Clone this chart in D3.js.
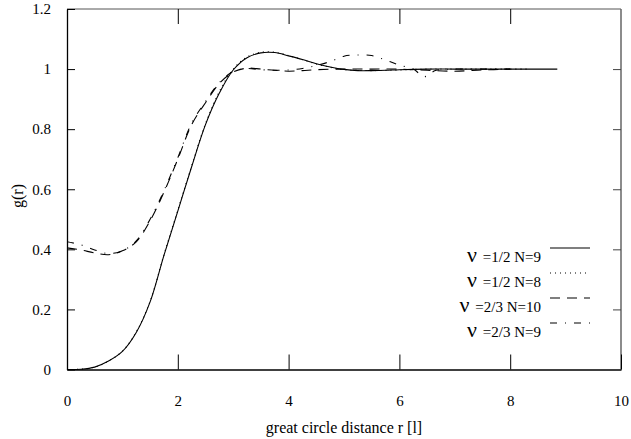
<!DOCTYPE html>
<html>
<head>
<meta charset="UTF-8">
<script src="https://cdn.jsdelivr.net/npm/d3@7"></script>
<style>
  body { margin: 0; background: #fff; }
  svg text { font-family: "Liberation Serif", "Times New Roman", Times, "DejaVu Serif", serif; fill: #000; }
</style>
</head>
<body>
<div id="chart"></div>
<script>
// --- data ---
var r_half9 = [0, 0.25, 0.5, 0.75, 1.0, 1.25, 1.5, 1.75, 2.0, 2.25, 2.5, 2.75, 3.0, 3.25, 3.5, 3.75, 4.0, 4.25, 4.5, 4.75, 5.0, 5.25, 5.5, 5.75, 6.0, 6.5, 7.0, 7.5, 8.0, 8.5, 8.85];
var g_half9 = [0, 0.001, 0.008, 0.028, 0.06, 0.123, 0.225, 0.38, 0.527, 0.675, 0.815, 0.92, 0.997, 1.038, 1.054, 1.055, 1.044, 1.032, 1.018, 1.007, 0.999, 0.995, 0.995, 0.996, 0.998, 1.0, 1.0, 1.0, 1.0, 1.0, 1.0];

var r_half8 = [0, 0.25, 0.5, 0.75, 1.0, 1.25, 1.5, 1.75, 2.0, 2.25, 2.5, 2.75, 3.0, 3.25, 3.5, 3.75, 4.0, 4.25, 4.5, 4.75, 5.0, 5.5, 6.0, 6.5, 7.0, 7.5, 8.0, 8.3];
var g_half8 = [0, 0.001, 0.008, 0.028, 0.061, 0.125, 0.227, 0.382, 0.53, 0.678, 0.818, 0.925, 1.0, 1.04, 1.056, 1.056, 1.045, 1.031, 1.017, 1.006, 0.998, 0.995, 0.997, 1.0, 1.0, 1.0, 1.0, 1.0];

var r_twoth10 = [0, 0.25, 0.5, 0.75, 1.0, 1.25, 1.5, 1.75, 2.0, 2.25, 2.5, 2.75, 3.0, 3.25, 3.5, 3.75, 4.0, 4.25, 4.5, 5.0, 5.5, 6.0, 6.5, 7.0, 7.5, 8.0];
var g_twoth10 = [0.405, 0.398, 0.388, 0.382, 0.395, 0.425, 0.495, 0.59, 0.70, 0.815, 0.888, 0.952, 0.99, 1.003, 1.0, 0.996, 0.993, 0.995, 0.998, 1.0, 1.0, 1.0, 0.996, 0.993, 0.997, 1.0];

var r_twoth9 = [0, 0.25, 0.5, 0.75, 1.0, 1.25, 1.5, 1.75, 2.0, 2.25, 2.5, 2.75, 3.0, 3.25, 3.5, 3.75, 4.0, 4.25, 4.5, 4.75, 5.0, 5.25, 5.5, 5.75, 6.0, 6.25, 6.45, 6.65, 7.0, 7.5, 8.0];
var g_twoth9 = [0.425, 0.415, 0.398, 0.386, 0.395, 0.428, 0.50, 0.595, 0.705, 0.82, 0.892, 0.955, 0.992, 1.002, 0.998, 0.996, 0.997, 1.002, 1.012, 1.025, 1.043, 1.047, 1.045, 1.03, 1.013, 1.0, 0.975, 0.995, 1.0, 1.0, 1.0];

var x_ticks = [0, 2, 4, 6, 8, 10];
var y_ticks = [0, 0.2, 0.4, 0.6, 0.8, 1, 1.2];
var legend_nu = ["=1/2 N=9", "=1/2 N=8", "=2/3 N=10", "=2/3 N=9"];

var W = 631, H = 439;
var L = 67, R = 621, T = 9, B = 369.5;
var FONT = "'Liberation Serif', 'Times New Roman', Times, 'DejaVu Serif', serif";

var svg = d3.select("#chart").append("svg").attr("width", W).attr("height", H);
var x = d3.scaleLinear().domain([0, 10]).range([L, R]);
var y = d3.scaleLinear().domain([0, 1.2]).range([B, T]);

// frame: top + right in grey, left + bottom in black
svg.append("line").attr("x1", L).attr("x2", R).attr("y1", T).attr("y2", T).style("stroke", "#555").style("stroke-width", 1);
svg.append("line").attr("x1", R).attr("x2", R).attr("y1", T).attr("y2", B).style("stroke", "#666").style("stroke-width", 1.5);

// axes (inward ticks)
var xb = svg.append("g").attr("transform", "translate(0," + B + ")")
	.call(d3.axisBottom(x).tickValues(x_ticks).tickSizeInner(-15).tickSizeOuter(0).tickPadding(26).tickFormat(d3.format("d")));
var xt = svg.append("g").attr("transform", "translate(0," + T + ")")
	.call(d3.axisTop(x).tickValues(x_ticks.slice(1, 5)).tickSizeInner(-15).tickSizeOuter(0).tickFormat(""));
xt.select(".domain").remove();
var yl = svg.append("g").attr("transform", "translate(" + L + ",0)")
	.call(d3.axisLeft(y).tickValues(y_ticks).tickSizeInner(-8).tickSizeOuter(0).tickPadding(16).tickFormat(function(d){ return d === 0 ? "0" : (d === 1 ? "1" : d3.format(".1f")(d)); }));
var yr = svg.append("g").attr("transform", "translate(" + R + ",0)")
	.call(d3.axisRight(y).tickValues(y_ticks.slice(1, 6)).tickSizeInner(-8).tickSizeOuter(0).tickFormat(""));
yr.select(".domain").remove();

svg.selectAll("g").attr("font-family", null);
svg.selectAll(".domain").style("stroke", "#000").style("stroke-width", 1.3);
svg.selectAll(".tick line").style("stroke", "#000").style("stroke-width", 1);
svg.selectAll(".tick text").style("font-family", FONT).style("font-size", "15px").style("fill", "#000");
yr.selectAll(".tick line").style("stroke", "#444");

// axis titles
svg.append("text").attr("x", 344).attr("y", 433).attr("text-anchor", "middle").style("font-family", FONT).style("font-size", "16px").text("great circle distance r [l]");
svg.append("text").attr("transform", "translate(23,196) rotate(-90)").attr("text-anchor", "middle").style("font-family", FONT).style("font-size", "16px").text("g(r)");

// curves
var series = [
	{ r: r_half9, g: g_half9, dash: null },
	{ r: r_half8, g: g_half8, dash: "1,4" },
	{ r: r_twoth10, g: g_twoth10, dash: "10,7" },
	{ r: r_twoth9, g: g_twoth9, dash: "7,8,1,8" }
];
var line = d3.line().x(function(d){ return x(d[0]); }).y(function(d){ return y(d[1]); }).curve(d3.curveCatmullRom.alpha(0.5));
series.forEach(function(s){
	var pts = s.r.map(function(v, i){ return [v, s.g[i]]; });
	svg.append("path").attr("d", line(pts)).style("fill", "none").style("stroke", "#000").style("stroke-width", 1.1)
		.style("stroke-dasharray", s.dash);
});

// legend
var ly = [257, 282, 307, 332];
series.forEach(function(s, i){
	var t = svg.append("text").attr("x", 541).attr("y", ly[i] + 5).attr("text-anchor", "end").style("font-family", FONT).style("font-size", "15px");
	t.append("tspan").style("font-size", "22px").text("\u03bd");
	t.append("tspan").attr("dx", 6).text(legend_nu[i]);
	svg.append("line").attr("x1", 550).attr("x2", 590).attr("y1", ly[i] - 9).attr("y2", ly[i] - 9)
		.style("stroke", "#000").style("stroke-width", 1.1).style("stroke-dasharray", s.dash);
});
</script>
</body>
</html>
